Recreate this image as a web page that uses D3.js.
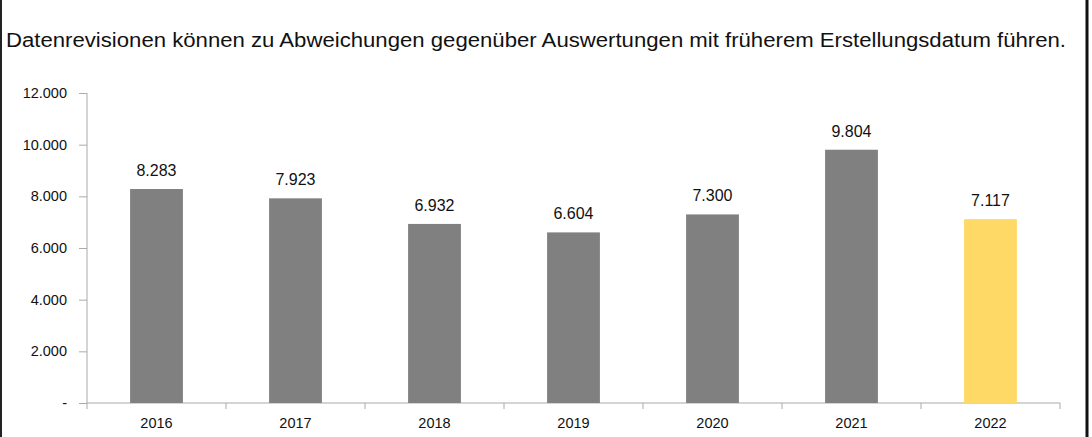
<!DOCTYPE html><html><head><meta charset="utf-8"><script src="https://cdn.jsdelivr.net/npm/d3@7"></script>
<style>body{margin:0;background:#fff}</style></head><body><svg id="c" width="1092" height="437"></svg>
<script>
const categories=["2016","2017","2018","2019","2020","2021","2022"];
const values=[8283,7923,6932,6604,7300,9804,7117];
const yTicks=[0,2000,4000,6000,8000,10000,12000];
const title="Datenrevisionen können zu Abweichungen gegenüber Auswertungen mit früherem Erstellungsdatum führen.";
const svg=d3.select("#c");
const fmt=v=>v===0?"-":d3.format(",")(v).replace(/,/g,".");
svg.append("rect").attr("x",1).attr("y",-5).attr("width",1086).attr("height",450).attr("fill","none").attr("stroke","#222").attr("stroke-width",2);
svg.append("line").attr("x1",1087).attr("x2",1087).attr("y1",0).attr("y2",437).attr("stroke","#111").attr("stroke-width",3);
svg.append("text").attr("x",6).attr("y",47).attr("font-family","Liberation Sans, Arial").attr("font-size",20).attr("fill","#111").attr("textLength",1060).attr("lengthAdjust","spacingAndGlyphs").text(title);
const x=d3.scaleBand().domain(categories).range([87,1060]).paddingInner(0.62).paddingOuter(0.31);
const y=d3.scaleLinear().domain([0,12000]).range([403,93]);
const ga=svg.append("g").attr("transform","translate(87,0)").call(d3.axisLeft(y).tickValues(yTicks).tickFormat(fmt).tickSize(8).tickPadding(12));
ga.selectAll("text").attr("font-family","Liberation Sans, Arial").attr("font-size",14.5).attr("fill","#111");
ga.selectAll("line,path").attr("stroke","#aaa");
ga.select("path").attr("d","M0,93V403");
const gx=svg.append("g").attr("transform","translate(0,403)");
gx.append("line").attr("x1",87).attr("x2",1060).attr("stroke","#aaa");
d3.range(categories.length+1).forEach(i=>gx.append("line").attr("x1",87+i*x.step()).attr("x2",87+i*x.step()).attr("y1",0).attr("y2",6).attr("stroke","#aaa"));
categories.forEach((c,i)=>gx.append("text").attr("x",x(c)+x.bandwidth()/2).attr("y",25).attr("text-anchor","middle").attr("font-family","Liberation Sans, Arial").attr("font-size",14.5).attr("fill","#111").text(c));
svg.selectAll(".bar").data(values).join("rect").attr("x",(d,i)=>x(categories[i])).attr("width",x.bandwidth()).attr("y",d=>y(d)).attr("height",d=>403-y(d)).attr("fill",(d,i)=>i===6?"#FFD966":"#808080");
svg.selectAll(".lbl").data(values).join("text").attr("x",(d,i)=>x(categories[i])+x.bandwidth()/2).attr("y",d=>y(d)-13).attr("text-anchor","middle").attr("font-family","Liberation Sans, Arial").attr("font-size",16).attr("fill","#111").text(fmt);
</script></body></html>
